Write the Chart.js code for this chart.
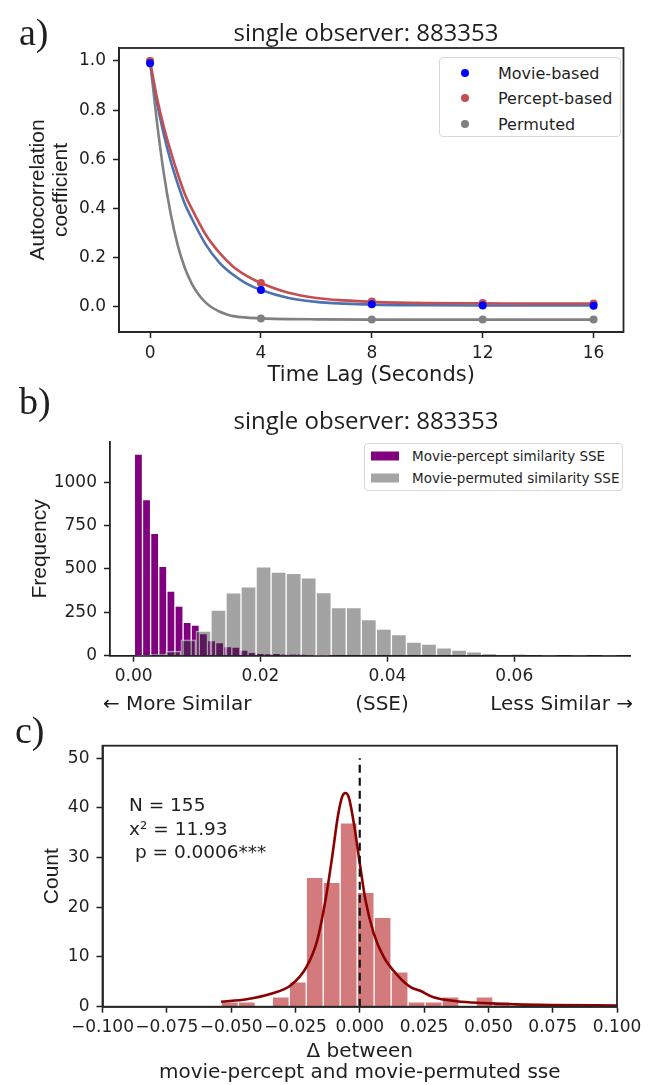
<!DOCTYPE html>
<html>
<head>
<meta charset="utf-8">
<script src="https://cdn.jsdelivr.net/npm/chart.js@4.4.1/dist/chart.umd.min.js"></script>
<style>
  body { margin: 0; background: #fff; }
  #fig { position: relative; width: 653px; height: 1085px; overflow: hidden;
         font-family: "DejaVu Sans", sans-serif; color: #1f1f1f; }
  #fig canvas { position: absolute; left: 0; }
  .panel { position: absolute; font-family: "Liberation Serif", "DejaVu Serif", serif; font-size: 38px; line-height: 1; }
  .ttl { position: absolute; font-family: "Open Sans", sans-serif; font-size: 24px; white-space: nowrap;
         transform: translate(-50%, -50%); }
  .legend { position: absolute; background: #fff; border: 1.5px solid #d8d8d8; border-radius: 4px; box-sizing: border-box; }
  .legend .row { position: absolute; white-space: nowrap; transform: translateY(-50%); }
  .legend .dot { position: absolute; width: 8px; height: 8px; border-radius: 50%; transform: translate(-50%, -50%); }
  .legend .box { position: absolute; width: 28px; height: 9px; transform: translateY(-50%); }
  .note { position: absolute; white-space: pre; font-size: 18.5px; line-height: 23.5px; }
  .sub { position: absolute; font-size: 20px; white-space: nowrap; transform: translateY(-50%); }
</style>
</head>
<body>
<div id="fig">
  <canvas id="chartA" width="653" height="400" style="top:0px"></canvas>
  <canvas id="chartB" width="653" height="270" style="top:425px"></canvas>
  <canvas id="chartC" width="653" height="370" style="top:715px"></canvas>

  <div class="panel" style="left:19px;top:13px">a)</div>
  <div class="ttl" style="left:366px;top:31px">single observer: 883353</div>
  <div class="legend" style="left:439px;top:57px;width:182px;height:80px;font-size:16px">
    <span class="dot" style="left:25px;top:15px;background:#0000ff"></span><span class="row" style="left:58px;top:15px">Movie-based</span>
    <span class="dot" style="left:25px;top:40px;background:#c44e52"></span><span class="row" style="left:58px;top:40px">Percept-based</span>
    <span class="dot" style="left:25px;top:66px;background:#808080"></span><span class="row" style="left:58px;top:66px">Permuted</span>
  </div>

  <div class="panel" style="left:19px;top:382px">b)</div>
  <div class="ttl" style="left:366px;top:419px">single observer: 883353</div>
  <div class="legend" style="left:364px;top:443px;width:259px;height:48px;font-size:13.5px">
    <span class="box" style="left:6px;top:12px;background:#800080"></span><span class="row" style="left:47px;top:12px">Movie-percept similarity SSE</span>
    <span class="box" style="left:6px;top:34px;background:#a5a5a5"></span><span class="row" style="left:47px;top:34px">Movie-permuted similarity SSE</span>
  </div>
  <div class="sub" style="left:103px;top:703px">← More Similar</div>
  <div class="sub" style="left:382px;top:703px;transform:translate(-50%,-50%)">(SSE)</div>
  <div class="sub" style="right:20px;top:703px">Less Similar →</div>

  <div class="panel" style="left:15px;top:711px">c)</div>
  <div class="note" style="left:129px;top:793px">N = 155
x² = 11.93
 p = 0.0006***</div>
</div>

<script>
const TICK_FONT = { family: '"DejaVu Sans", sans-serif', size: 17 };
const ROT_FONT = '"Liberation Sans", Arial, sans-serif';
const FLAT_FONT = '"DejaVu Sans", sans-serif';
const INK = '#1f1f1f';

// ---- panel a: autocorrelation at each lag ----
const lagSeconds = [0, 4, 8, 12, 16];
const movieAC = [0.99, 0.068, 0.010, 0.005, 0.004];
const perceptAC = [1.0, 0.097, 0.022, 0.015, 0.013];
const permutedAC = [1.0, -0.048, -0.052, -0.052, -0.052];
// fitted decay curves
const fitT = [0, 0.25, 0.5, 0.75, 1, 1.25, 1.5, 2, 2.5, 3, 3.5, 4, 5, 6, 7, 8, 10, 12, 14, 16];
const movieFitV = [0.99, 0.83, 0.70, 0.59, 0.50, 0.42, 0.36, 0.255, 0.18, 0.13, 0.093, 0.068, 0.036, 0.02, 0.013, 0.009, 0.006, 0.005, 0.005, 0.005];
const perceptFitV = [1.0, 0.85, 0.73, 0.63, 0.54, 0.46, 0.40, 0.295, 0.22, 0.163, 0.125, 0.097, 0.057, 0.036, 0.026, 0.02, 0.015, 0.014, 0.013, 0.013];
const permutedFitT = [0, 0.25, 0.5, 0.75, 1, 1.25, 1.5, 1.75, 2, 2.25, 2.5, 2.75, 3, 3.5, 4, 5, 6, 8, 12, 16];
const permutedFitV = [1.0, 0.75, 0.54, 0.375, 0.25, 0.16, 0.095, 0.05, 0.018, -0.004, -0.019, -0.03, -0.038, -0.044, -0.047, -0.05, -0.051, -0.052, -0.052, -0.052];
const acTicks = [0, 0.2, 0.4, 0.6, 0.8, 1.0];

// ---- panel b: SSE histograms ----
const perceptBinStart = 0.00012, perceptBinWidth = 0.00128;
const perceptSSECounts = [1162, 900, 705, 515, 372, 286, 192, 177, 128, 87, 75, 53, 50, 32, 19, 14, 9, 13, 7, 7, 6, 4, 2, 1];
const permutedBinStart = 0.00034, permutedBinWidth = 0.00237;
const permutedSSECounts = [2, 9, 26, 91, 142, 263, 362, 397, 512, 482, 474, 448, 363, 277, 277, 208, 154, 121, 78, 67, 45, 32, 22, 9, 4, 6, 0, 1, 0, 1, 0, 1];
const sseTicks = [0, 0.02, 0.04, 0.06];
const freqTicks = [0, 250, 500, 750, 1000];

// ---- panel c: difference histogram ----
const deltaBinStart = -0.0538, deltaBinWidth = 0.0066;
const deltaCounts = [1, 1, 0, 2, 5, 26, 25, 37, 23, 18, 7, 1, 1, 2, 0, 2, 1];
const deltaFitX = [-0.0539, -0.044, -0.0345, -0.0268, -0.0207, -0.0165, -0.0133, -0.0107, -0.0085, -0.0068, -0.0055, -0.0042, -0.0023, 0.0, 0.0022, 0.0054, 0.0093, 0.0145, 0.0196, 0.0235, 0.0287, 0.0377, 0.048, 0.061, 0.074, 0.1];
const deltaFitY = [1.0, 1.5, 2.6, 4.3, 8.0, 13.4, 21.5, 30.2, 38.3, 42.3, 43.0, 42.0, 36.9, 28.9, 21.5, 14.8, 10.0, 6.4, 4.0, 3.2, 1.9, 1.1, 0.74, 0.47, 0.34, 0.25];
const zeroLineY = [0, 50];
const deltaTicks = [-0.1, -0.075, -0.05, -0.025, 0, 0.025, 0.05, 0.075, 0.1];
const countTicks = [0, 10, 20, 30, 40, 50];

const pts = (xs, ys) => xs.map((x, i) => ({ x: x, y: ys[i] }));
const bins = (start, w, counts) => counts.map((c, i) => ({ x: start + w * (i + 0.5), y: c }));
// bar width in pixels for a bin width in data units
const binPx = w => ctx => {
  const s = ctx.chart.scales.x;
  return Math.abs(s.getPixelForValue(w) - s.getPixelForValue(0));
};

function axis(o) {
  const horiz = o.horiz;
  return {
    type: 'linear', min: o.min, max: o.max, display: o.display !== false,
    afterBuildTicks: s => { s.ticks = o.ticks.map(v => ({ value: v })); },
    afterFit: s => { if (o.fit == null) return; if (s.isHorizontal()) s.height = o.fit; else s.width = o.fit; },
    border: { display: true, color: INK, width: 1.8 },
    grid: { display: true, drawOnChartArea: false, drawTicks: true, tickLength: 6, tickWidth: 1.5, tickColor: INK, color: INK, offset: false },
    ticks: { color: INK, font: TICK_FONT, padding: horiz ? 5 : 7, autoSkip: false, maxRotation: 0, callback: v => o.fmt(v) },
    title: o.title || { display: false },
    offset: false
  };
}

const framePlugin = {
  id: 'frame',
  afterDraw(chart) {
    const { ctx, chartArea: a } = chart;
    ctx.save();
    ctx.strokeStyle = '#262626';
    ctx.lineWidth = 1.8;
    ctx.strokeRect(a.left, a.top, a.right - a.left, a.bottom - a.top);
    ctx.restore();
  }
};

const base = {
  responsive: false, animation: false, devicePixelRatio: 1, events: [],
  plugins: { legend: { display: false }, tooltip: { enabled: false } }
};

// panel a
new Chart(document.getElementById('chartA'), {
  type: 'scatter',
  data: {
    datasets: [
      { data: pts(lagSeconds, movieAC), backgroundColor: '#0000ff', pointRadius: 4, borderWidth: 0 },
      { data: pts(lagSeconds, perceptAC), backgroundColor: '#c44e52', pointRadius: 4, borderWidth: 0 },
      { data: pts(lagSeconds, permutedAC), backgroundColor: '#808080', pointRadius: 4, borderWidth: 0 },
      { data: pts(fitT, perceptFitV), showLine: true, pointRadius: 0, borderColor: '#c44e52', borderWidth: 2.6, cubicInterpolationMode: 'monotone' },
      { data: pts(fitT, movieFitV), showLine: true, pointRadius: 0, borderColor: '#4c72b0', borderWidth: 2.6, cubicInterpolationMode: 'monotone' },
      { data: pts(permutedFitT, permutedFitV), showLine: true, pointRadius: 0, borderColor: '#808080', borderWidth: 2.6, cubicInterpolationMode: 'monotone' }
    ]
  },
  options: Object.assign({}, base, {
    layout: { padding: { left: 0, top: 48, right: 29.5, bottom: 0 } },
    scales: {
      x: axis({ horiz: true, min: -1.12, max: 17.08, ticks: lagSeconds, fmt: v => String(v), fit: 68,
        title: { display: true, text: 'Time Lag (Seconds)', color: INK, font: { family: FLAT_FONT, size: 21, lineHeight: 1.2 }, padding: { top: 0, bottom: 11.4 } } }),
      y: axis({ min: -0.1025, max: 1.0525, ticks: acTicks, fmt: v => v.toFixed(1), fit: 119,
        title: { display: true, text: ['Autocorrelation', 'coefficient'], color: INK, font: { family: ROT_FONT, size: 21, lineHeight: 1.1 }, padding: { top: 26.45, bottom: 0 } } })
    }
  }),
  plugins: [framePlugin]
});

// panel b
const xB = axis({ horiz: true, min: -0.00372, max: 0.0783, ticks: sseTicks, fmt: v => v.toFixed(2), fit: 39.3 });
xB.stacked = true;   // one shared slot, so both histograms sit on their own bin centres
const yB = axis({ min: 0, max: 1230, ticks: freqTicks, fmt: v => String(v), fit: 110,
  title: { display: true, text: 'Frequency', color: INK, font: { family: ROT_FONT, size: 21, lineHeight: 1.1 }, padding: { top: 28.45, bottom: 0 } } });
yB.stacked = false;
new Chart(document.getElementById('chartB'), {
  type: 'bar',
  data: {
    datasets: [
      { data: bins(perceptBinStart, perceptBinWidth, perceptSSECounts), order: 2,
        backgroundColor: '#800080', borderColor: 'rgba(255,255,255,0.85)', borderWidth: 1,
        barThickness: binPx(perceptBinWidth) },
      { data: bins(permutedBinStart, permutedBinWidth, permutedSSECounts), order: 1,
        backgroundColor: 'rgba(50,50,50,0.45)', borderColor: 'rgba(255,255,255,0.6)', borderWidth: 1,
        barThickness: binPx(permutedBinWidth) }
    ]
  },
  options: Object.assign({}, base, {
    layout: { padding: { left: 0, top: 10, right: 22.6, bottom: 0 } },
    scales: { x: xB, y: yB }
  })
});

// panel c
const fmtDelta = v => (v < -1e-9 ? '\u2212' : '') + Math.abs(v).toFixed(3);
new Chart(document.getElementById('chartC'), {
  type: 'bar',
  data: {
    datasets: [
      { type: 'line', data: pts([0, 0], zeroLineY), borderColor: '#111', borderWidth: 2.2, borderDash: [8, 5], pointRadius: 0, tension: 0 },
      { type: 'line', data: pts(deltaFitX, deltaFitY), borderColor: '#8b0000', borderWidth: 2.6, pointRadius: 0, cubicInterpolationMode: 'monotone' },
      { data: bins(deltaBinStart, deltaBinWidth, deltaCounts), backgroundColor: 'rgba(196,78,82,0.75)',
        borderColor: 'rgba(255,255,255,0.45)', borderWidth: 1, categoryPercentage: 1, barPercentage: 1 }
    ]
  },
  options: Object.assign({}, base, {
    layout: { padding: { left: 0, top: 30.7, right: 36, bottom: 0 } },
    scales: {
      x: axis({ horiz: true, min: -0.1, max: 0.1, ticks: deltaTicks, fmt: fmtDelta, fit: 78.3,
        title: { display: true, text: ['\u0394 between', 'movie-percept and movie-permuted sse'], color: INK, font: { family: FLAT_FONT, size: 20, lineHeight: 1.05 }, padding: { top: 0, bottom: 1.5 } } }),
      y: axis({ min: 0, max: 52.5, ticks: countTicks, fmt: v => String(v), fit: 102.5,
        title: { display: true, text: 'Count', color: INK, font: { family: ROT_FONT, size: 21, lineHeight: 1.1 }, padding: { top: 40.45, bottom: 0 } } })
    }
  }),
  plugins: [framePlugin]
});
</script>
</body>
</html>
